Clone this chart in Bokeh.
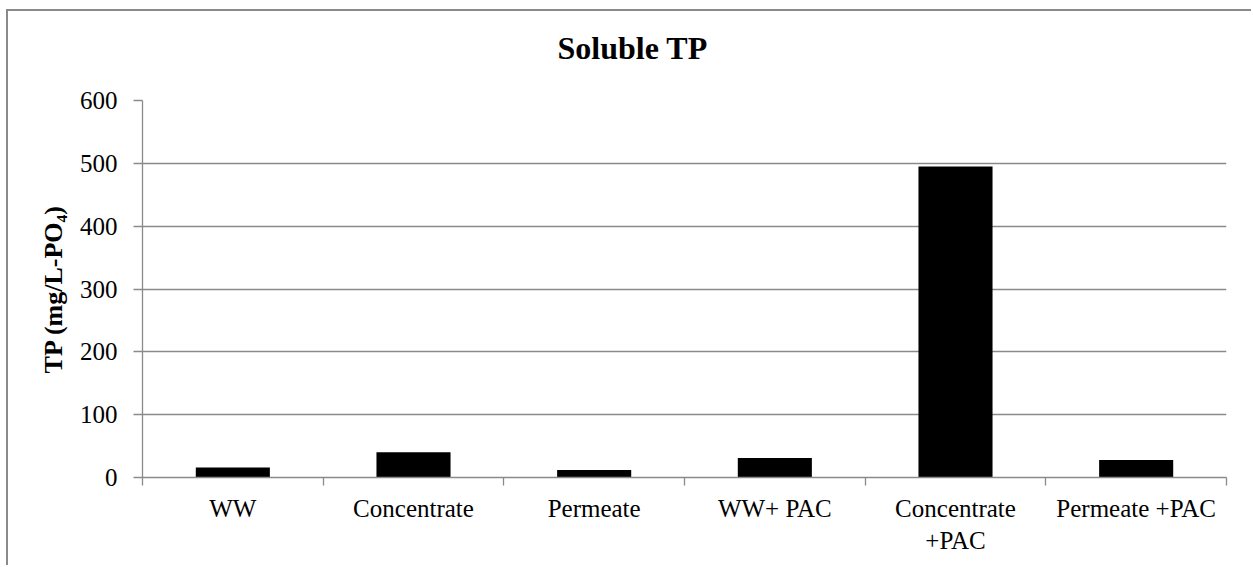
from bokeh.plotting import figure
from bokeh.models import FixedTicker, ColumnDataSource, Range1d
from bokeh.embed import file_html
from bokeh.resources import INLINE

title_text = "Soluble TP"
categories = ["WW", "Concentrate", "Permeate", "WW+ PAC", "Concentrate\n+PAC", "Permeate +PAC"]
tp_values = [16, 40, 12, 31, 495, 28]
y_ticks = [0, 100, 200, 300, 400, 500, 600]

n = len(categories)
x_centers = [i + 0.5 for i in range(n)]
x_bounds = list(range(n + 1))
source = ColumnDataSource(dict(x=x_centers, top=tp_values))

GRAY = "#8a8a8a"
FONT = "Liberation Serif"

p = figure(width=1245, height=556,
           x_range=Range1d(0, n), y_range=Range1d(0, 600),
           output_backend="svg", toolbar_location=None,
           title=title_text,
           min_border_left=134, min_border_right=27,
           min_border_top=89, min_border_bottom=90)

p.vbar(x="x", top="top", width=0.41, bottom=0, source=source,
       fill_color="black", line_color=None)

p.outline_line_color = None
p.background_fill_color = "white"
p.border_fill_color = "white"

# title
p.title.text_font = FONT
p.title.text_font_size = "32px"
p.title.text_font_style = "bold"
p.title.text_color = "black"
p.title.align = "left"
p.title.offset = 415
p.title.standoff = 10
p.title.padding = dict(top=0, right=0, bottom=30, left=0)

# grid
p.xgrid.visible = False
p.ygrid.grid_line_color = GRAY
p.ygrid.grid_line_width = 1.3

# y axis
ya = p.yaxis[0]
ya.ticker = FixedTicker(ticks=y_ticks)
ya.axis_line_color = GRAY
ya.axis_line_width = 1.3
ya.major_tick_line_color = GRAY
ya.major_tick_line_width = 1.3
ya.major_tick_out = 9
ya.major_tick_in = 0
ya.minor_tick_line_color = None
ya.major_label_text_font = FONT
ya.major_label_text_font_size = "25px"
ya.major_label_text_color = "black"
ya.major_label_standoff = 16
ya.axis_label = "TP (mg/L-PO\u2084)"
ya.axis_label_text_font = FONT
ya.axis_label_text_font_size = "26px"
ya.axis_label_text_font_style = "bold"
ya.axis_label_text_color = "black"
ya.axis_label_standoff = 9

# x axis
xa = p.xaxis[0]
xa.ticker = FixedTicker(ticks=x_centers, minor_ticks=x_bounds)
xa.major_label_overrides = {c: lab for c, lab in zip(x_centers, categories)}
xa.axis_line_color = GRAY
xa.axis_line_width = 1.3
xa.major_tick_line_color = None
xa.major_tick_out = 0
xa.major_tick_in = 0
xa.minor_tick_line_color = GRAY
xa.minor_tick_line_width = 1.3
xa.minor_tick_out = 8
xa.minor_tick_in = 0
xa.major_label_text_font = FONT
xa.major_label_text_font_size = "25px"
xa.major_label_text_color = "black"
xa.major_label_standoff = 9

p.styles = {"margin-left": "8px", "margin-top": "11px",
            "box-shadow": "-2px -2px 0 0 #8a8a8a"}

open("out.html", "w").write(file_html(p, INLINE))
